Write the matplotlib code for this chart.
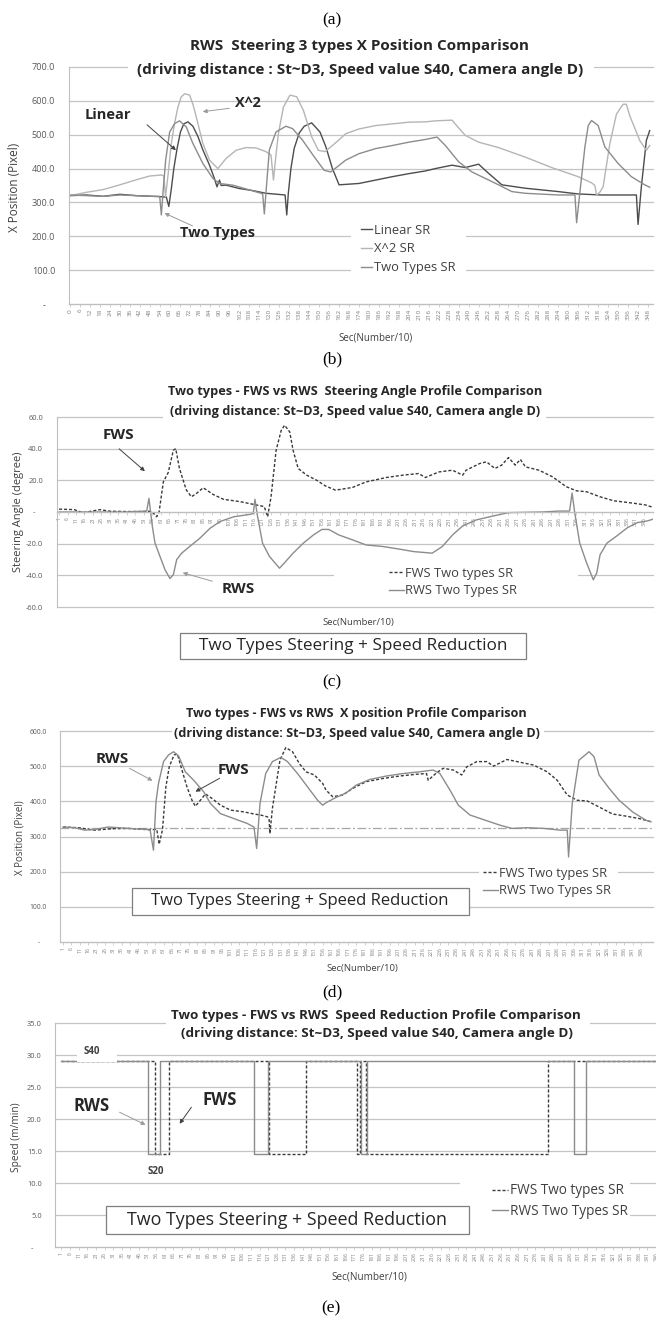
import numpy as np
import matplotlib
matplotlib.use('Agg')
import matplotlib.pyplot as plt
from matplotlib.patches import Rectangle, FancyArrowPatch

plt.rcParams['font.family'] = ['Open Sans', 'DejaVu Sans']

# ---------------- data ----------------
# (a) RWS steering 3 types, X position (pixel) vs sec(number/10)
linear_sr = [(0, 320), (10, 322), (20, 318), (30, 324), (40, 320), (50, 318), (58, 316), (59.5, 288),
             (61, 340), (62.5, 400), (64.5, 460), (66.5, 508), (68.5, 532), (71, 538), (74, 525),
             (77, 495), (80, 455), (84, 410), (87, 370), (88.5, 346), (90, 366), (91, 350), (94, 351),
             (102, 341), (110, 335), (118, 327), (129.5, 322), (130.5, 263), (131.5, 330), (133, 400),
             (135, 460), (138, 505), (141, 525), (145.5, 535), (150.5, 508), (154, 465), (158, 400),
             (162, 352), (174, 356), (184, 366), (194, 376), (204, 385), (214, 393), (220, 400),
             (230, 410), (238, 403), (246, 413), (252, 386), (260, 352), (274, 342), (294, 332),
             (306, 325), (320, 322), (341, 322), (342, 235), (344, 347), (347, 483), (349, 512)]
x2_sr = [(0, 320), (10, 330), (20, 338), (30, 352), (40, 367), (48, 378), (55, 381), (56.5, 378),
         (57.5, 317), (59, 380), (61, 474), (63, 535), (65, 582), (67, 612), (69, 621), (72, 617),
         (74, 590), (76, 553), (80, 474), (84, 425), (89, 400), (94, 430), (100, 454), (106, 462),
         (112, 461), (118, 450), (121, 440), (122.5, 366), (124, 440), (125.5, 504), (128.5, 582),
         (132.5, 617), (136.5, 612), (140.5, 572), (145.5, 494), (149.5, 454), (153.5, 450),
         (157, 464), (162, 485), (166, 503), (174, 517), (184, 527), (194, 532), (204, 537),
         (214, 538), (220, 541), (230, 543), (234, 520), (238, 498), (246, 478), (258, 462),
         (274, 434), (290, 403), (306, 376), (314, 358), (316, 350), (317, 322), (319, 330),
         (321, 347), (325, 473), (329, 561), (333, 590), (335, 590), (337, 556), (340, 520),
         (343, 483), (347, 454), (349, 468)]
two_types_sr = [(0, 322), (10, 320), (20, 318), (30, 322), (40, 320), (50, 318), (54, 318), (55, 263),
                (56, 330), (57.6, 425), (60, 508), (63, 533), (66, 541), (70, 523), (74, 474), (80, 415),
                (86, 371), (90, 356), (98, 351), (108, 337), (115, 327), (116, 325), (117, 266),
                (118, 330), (120, 455), (124, 508), (130, 525), (134, 518), (140, 484), (147, 435),
                (153, 395), (157, 390), (166, 425), (174, 444), (184, 459), (194, 468), (204, 478),
                (214, 486), (221, 493), (226, 468), (234, 420), (242, 390), (250, 371), (258, 352),
                (266, 332), (274, 327), (294, 322), (304, 322), (305, 240), (307, 330), (310, 464),
                (312, 527), (314, 542), (318, 527), (322, 464), (330, 415), (338, 376), (346, 352),
                (349, 345)]

# (b) steering angle (degree)
fws_angle = [(1, 1.8), (10, 1.5), (15, -0.5), (25, 1.5), (31, 0.5), (40, 0.3), (51, 0.3), (55.6, 0.5),
             (58.6, -3), (60, 0), (62.5, 19), (65.4, 25), (68.4, 39), (69.8, 40), (72, 27.5), (76, 14),
             (79, 9.6), (82, 11.7), (86, 15.3), (92, 11), (98, 8), (108, 6.5), (117.5, 4.4), (122, 3.4),
             (124, -3), (126, 9.6), (129, 39), (132, 51.6), (134, 54.8), (137, 50.6), (139, 39),
             (142, 27.5), (147, 23.3), (153, 20), (158, 16.5), (164, 13.8), (174, 15.5), (182, 19),
             (194, 21.8), (204, 23.3), (213, 24.3), (217, 21.8), (225, 25.3), (233, 26.4), (239, 23.3),
             (241, 26.4), (249, 30.6), (253, 31.7), (258, 27.5), (262, 29.6), (266, 34.4), (270, 29.6),
             (273, 33.2), (276, 28.5), (284, 26.4), (292, 22.2), (300, 16), (306, 13.4), (312, 12.8),
             (320, 9.6), (328, 7.1), (340, 5.5), (347, 4.4), (351, 3)]
rws_angle = [(1, 0), (20, 0), (40, 0), (52.7, 0.6), (54, 8.6), (55, 0), (56, -9), (57.6, -19.7),
             (60.5, -28), (63.5, -36.5), (66.4, -42), (68.4, -39.6), (70.4, -30), (73.3, -26),
             (78, -21.8), (84, -16.6), (90, -10.3), (96, -6), (104, -3), (113.6, -1.5), (115.5, -1),
             (116.5, 8), (118, -2.5), (121, -19.7), (125, -28), (131, -35.5), (134, -32), (139, -26),
             (145, -19.7), (151, -14.5), (156, -11), (160, -11), (166, -14.5), (174, -17.6),
             (182, -20.8), (192, -21.8), (202, -23.5), (210, -25), (221, -26), (227, -21.8),
             (233, -14.5), (239, -8.8), (247, -5), (257, -2.5), (266, -0.4), (286, 0), (296, 0.6),
             (302, 0.6), (303.5, 12), (305, 0), (308, -19.7), (312, -32), (316, -42.8), (318, -38.6),
             (320, -27), (324, -19.7), (330, -15), (336, -10), (342, -6.7), (348, -5.6), (351, -4.6)]

# (c) X position (pixel)
fws_xpos = [(1, 327), (10, 325), (20, 318), (30, 322), (40, 323), (50, 320), (57, 320), (58.4, 278),
            (60.4, 320), (62.4, 441), (64.4, 498), (67.3, 532), (69.3, 534), (72, 489), (75, 441),
            (78, 403), (80, 386), (83, 403), (86, 421), (90, 408), (95, 389), (101, 375), (109, 370),
            (115, 364), (119, 361), (123, 356), (124, 350), (124.5, 308), (126, 380), (128, 441),
            (130.5, 517), (134, 553), (138, 541), (142, 508), (146, 484), (151, 475), (156, 451),
            (158, 432), (162, 413), (168, 418), (174, 437), (182, 456), (192, 465), (202, 472),
            (212, 477), (218, 479), (219, 460), (224, 481), (228, 494), (234, 489), (239, 475),
            (242, 498), (248, 513), (254, 513), (258, 500), (266, 519), (272, 513), (282, 503),
            (290, 484), (296, 460), (302, 418), (308, 403), (314, 401), (321, 384), (329, 364),
            (337, 358), (345, 351), (352, 342)]
rws_xpos = [(1, 327), (8, 325), (14, 318), (20, 320), (28, 327), (40, 323), (51, 320), (53, 318),
            (55, 261), (56.5, 399), (58, 451), (61, 513), (64, 532), (67, 541), (70, 529), (74, 484),
            (79, 460), (85, 427), (89, 394), (95, 365), (103, 351), (111, 337), (115, 327),
            (116.6, 266), (118.6, 394), (122, 479), (126, 513), (131, 525), (135, 513), (141, 479),
            (147, 441), (153, 403), (156, 389), (158, 396), (164, 411), (170, 424), (176, 446),
            (184, 462), (194, 472), (204, 479), (214, 484), (222, 489), (226, 479), (232, 432),
            (237, 389), (244, 361), (252, 348), (262, 332), (269, 323), (278, 325), (288, 323),
            (298, 318), (302, 318), (302.8, 242), (305, 394), (309, 517), (315, 541), (318, 527),
            (321, 475), (327, 437), (333, 403), (341, 370), (349, 346), (352, 342)]
ref_xpos = 323

# (d) speed (m/min): change points, value held until the next one
fws_speed = [(1, 29), (55.1, 14.5), (63.5, 29), (121.5, 14.5), (142.9, 29), (172.5, 14.5), (174, 29),
             (177.5, 14.5), (283.1, 29), (352, 29)]
rws_speed = [(1, 29), (51, 14.5), (58.2, 29), (113, 14.5), (120.8, 29), (175, 14.5), (178.5, 29),
             (298.7, 14.5), (305.4, 29), (352, 29)]

# ---------------- figure helpers (pixel layout) ----------------
W, H = 656, 1317
fig = plt.figure(figsize=(W / 100, H / 100), dpi=100)

def fx(x):
    return x / W

def fy(y):
    return 1 - y / H

def add_ax(l, t, r, b):
    return fig.add_axes([fx(l), fy(b), (r - l) / W, (b - t) / H])

def txt(x, y, s, **kw):
    kw.setdefault('zorder', 4)
    fig.text(fx(x), fy(y), s, ha=kw.pop('ha', 'center'), va='center', **kw)

def box(l, t, r, b, edge='none'):
    fig.add_artist(Rectangle((fx(l), fy(b)), (r - l) / W, (b - t) / H, transform=fig.transFigure,
                             facecolor='white', edgecolor=edge, lw=0.9, zorder=3))

def arrow(x0, y0, x1, y1, color):
    fig.add_artist(FancyArrowPatch((fx(x0), fy(y0)), (fx(x1), fy(y1)), transform=fig.transFigure,
                                   arrowstyle='-|>', mutation_scale=6, color=color, lw=0.7, zorder=4))

def style(ax, yticks, ylabels, pad, ysize, xsize):
    ax.set_facecolor('none')
    for s in ['top', 'right']:
        ax.spines[s].set_visible(False)
    for s in ['left', 'bottom']:
        ax.spines[s].set_color('#bfbfbf')
        ax.spines[s].set_linewidth(0.8)
    ax.set_yticks(yticks)
    ax.set_yticklabels(ylabels)
    ax.yaxis.grid(True, color='#c4c4c4', lw=0.9)
    for g in ax.get_ygridlines():
        g.set_clip_on(False)
    ax.set_axisbelow(True)
    ax.tick_params(axis='y', length=0, labelsize=ysize, colors='#595959', pad=pad)
    ax.tick_params(axis='x', length=2, width=0.5, color='#bfbfbf', labelsize=xsize,
                   labelcolor='#7f7f7f', rotation=90, pad=1.5)

def legend(ax, cx, cy, size, spacing):
    fig.legend(*ax.get_legend_handles_labels(), loc='center', bbox_to_anchor=(fx(cx), fy(cy)),
               frameon=False, fontsize=size, handlelength=1.2, handletextpad=0.1,
               labelspacing=spacing, labelcolor='#404040')

def xy(pairs):
    a = np.array(pairs, dtype=float)
    return a[:, 0], a[:, 1]

def fmt(vals):
    return ['-    ' if v == 0 else f'{v:.1f}' for v in vals]

TITLE_C = '#262626'
DARK = '#4d4d4d'
MID = '#8c8c8c'
LIGHT = '#b5b5b5'
dash = (0, (2.2, 1.4))
BOX_TEXT = 'Two Types Steering + Speed Reduction'
SERIF = 'Liberation Serif'

# ---------------- (a) ----------------
txt(332, 20, '(a)', family=SERIF, fontsize=12.5)
ax = add_ax(69, 67, 653, 304)
ax.plot(*xy(linear_sr), color=DARK, lw=1.0, label='Linear SR')
ax.plot(*xy(x2_sr), color=LIGHT, lw=1.0, label='X^2 SR')
ax.plot(*xy(two_types_sr), color=MID, lw=1.0, label='Two Types SR')
ax.set_xlim(-0.6, 351)
ax.set_ylim(0, 700)
yt = np.arange(0, 701, 100)
style(ax, yt, fmt(yt), 10, 6.6, 4.6)
ax.set_xticks(np.arange(0, 349, 6))
ax.set_xticklabels([str(v) for v in range(0, 349, 6)])
txt(360, 46, 'RWS  Steering 3 types X Position Comparison', fontsize=11, fontweight='bold', color=TITLE_C)
box(128, 59, 594, 81)
txt(360, 70, '(driving distance : St~D3, Speed value S40, Camera angle D)', fontsize=11,
    fontweight='bold', color=TITLE_C)
box(351, 214, 466, 284)
fig.legend(*ax.get_legend_handles_labels(), loc='center', bbox_to_anchor=(fx(408), fy(249)),
           frameon=False, fontsize=9.3, handlelength=0.9, handletextpad=0.1, labelspacing=0.45,
           labelcolor='#404040')
txt(108, 115, 'Linear', fontsize=10.5, fontweight='bold', color='#262626')
arrow(145, 123, 178, 152, '#404040')
txt(248, 103, 'X^2', fontsize=10.5, fontweight='bold', color='#262626')
arrow(232, 108, 200, 112, '#9a9a9a')
txt(217, 233, 'Two Types', fontsize=10.5, fontweight='bold', color='#262626')
arrow(195, 227, 162, 212, '#9a9a9a')
txt(15, 187, 'X Position (Pixel)', rotation=90, fontsize=8.5, color='#404040')
txt(376, 338, 'Sec(Number/10)', fontsize=7, color='#404040')

# ---------------- (b) ----------------
txt(332, 359, '(b)', family=SERIF, fontsize=12.5)
ax = add_ax(57, 417, 653, 607)
ax.plot(*xy(fws_angle), color='#3a3a3a', lw=1.0, ls=dash, label='FWS Two types SR')
ax.plot(*xy(rws_angle), color=MID, lw=1.0, label='RWS Two Types SR')
ax.set_xlim(-0.2, 351.2)
ax.set_ylim(-60, 60)
yt = np.arange(-60, 61, 20)
style(ax, yt, fmt(yt), 10, 5.4, 3.8)
ax.spines['bottom'].set_position(('data', 0))
ax.set_xticks(np.arange(1, 347, 5))
ax.set_xticklabels([str(v) for v in range(1, 347, 5)])
txt(355, 391, 'Two types - FWS vs RWS  Steering Angle Profile Comparison', fontsize=9.2,
    fontweight='bold', color=TITLE_C)
box(163, 402, 546, 421)
txt(355, 411, '(driving distance: St~D3, Speed value S40, Camera angle D)', fontsize=9.2,
    fontweight='bold', color=TITLE_C)
box(334, 560, 578, 605)
legend(ax, 453, 582, 9.3, 0.35)
txt(118, 435, 'FWS', fontsize=11, fontweight='bold', color='#262626')
arrow(117, 447, 147, 473, '#404040')
txt(238, 589, 'RWS', fontsize=11, fontweight='bold', color='#262626')
arrow(215, 582, 180, 572, '#9a9a9a')
txt(19, 512, 'Steering Angle (degree)', rotation=90, fontsize=8, color='#404040')
txt(358, 623, 'Sec(Number/10)', fontsize=6.8, color='#404040')
box(180, 633, 526, 659, edge='#7f7f7f')
txt(353, 646, BOX_TEXT, fontsize=12.3, color='#262626')

# ---------------- (c) ----------------
txt(332, 682, '(c)', family=SERIF, fontsize=12.5)
ax = add_ax(60, 731, 653, 942)
ax.axhline(ref_xpos, color='#a6a6a6', lw=0.9, ls=(0, (7, 2, 1.5, 2)))
ax.plot(*xy(fws_xpos), color='#3a3a3a', lw=1.0, ls=dash, label='FWS Two types SR')
ax.plot(*xy(rws_xpos), color=MID, lw=1.0, label='RWS Two Types SR')
ax.set_xlim(-0.8, 353.2)
ax.set_ylim(0, 600)
yt = np.arange(0, 601, 100)
style(ax, yt, fmt(yt), 9.5, 4.9, 3.8)
ax.set_xticks(np.arange(1, 347, 5))
ax.set_xticklabels([str(v) for v in range(1, 347, 5)])
txt(356, 714, 'Two types - FWS vs RWS  X position Profile Comparison', fontsize=9.1,
    fontweight='bold', color=TITLE_C)
box(172, 722, 544, 742)
txt(357, 733, '(driving distance: St~D3, Speed value S40, Camera angle D)', fontsize=9.1,
    fontweight='bold', color=TITLE_C)
box(479, 860, 618, 905)
legend(ax, 547, 882, 9.3, 0.35)
txt(112, 759, 'RWS', fontsize=11, fontweight='bold', color='#262626')
arrow(127, 767, 155, 782, '#9a9a9a')
txt(233, 770, 'FWS', fontsize=11, fontweight='bold', color='#262626')
arrow(222, 777, 193, 793, '#404040')
txt(20, 838, 'X Position (Pixel)', rotation=90, fontsize=7, color='#404040')
txt(362, 968, 'Sec(Number/10)', fontsize=6.8, color='#404040')
box(132, 888, 469, 915, edge='#7f7f7f')
txt(300, 901, BOX_TEXT, fontsize=12, color='#262626')

# ---------------- (d) ----------------
txt(332, 992, '(d)', family=SERIF, fontsize=12.5)
ax = add_ax(55, 1023, 656, 1247)
ax.plot(*xy(fws_speed), color='#3a3a3a', lw=1.0, ls=dash, drawstyle='steps-post',
        label='FWS Two types SR')
ax.plot(*xy(rws_speed), color=MID, lw=1.0, drawstyle='steps-post', label='RWS Two Types SR')
ax.set_xlim(-2.74, 342.7)
ax.set_ylim(0, 35)
yt = np.arange(0, 36, 5)
style(ax, yt, fmt(yt), 9.5, 5.4, 3.8)
ax.set_xticks(np.arange(1, 347, 5))
ax.set_xticklabels([str(v) for v in range(1, 347, 5)])
txt(376, 1015, 'Two types - FWS vs RWS  Speed Reduction Profile Comparison', fontsize=9.7,
    fontweight='bold', color=TITLE_C)
box(166, 1005, 590, 1044)
txt(377, 1034, '(driving distance: St~D3, Speed value S40, Camera angle D)', fontsize=9.7,
    fontweight='bold', color=TITLE_C)
box(460, 1178, 630, 1225)
legend(ax, 560, 1201, 9.8, 0.4)
box(77, 1045, 117, 1062)
txt(92, 1052, 'S40', fontsize=7, fontweight='bold', color='#404040')
txt(156, 1171, 'S20', fontsize=7, fontweight='bold', color='#404040')
txt(92, 1106, 'RWS', fontsize=12, fontweight='bold', color='#262626')
arrow(117, 1111, 148, 1126, '#9a9a9a')
txt(220, 1100, 'FWS', fontsize=12, fontweight='bold', color='#262626')
arrow(193, 1105, 178, 1126, '#404040')
txt(17, 1137, 'Speed (m/min)', rotation=90, fontsize=7.3, color='#404040')
txt(369, 1277, 'Sec(Number/10)', fontsize=7.2, color='#404040')
box(106, 1206, 469, 1234, edge='#7f7f7f')
txt(287, 1220, BOX_TEXT, fontsize=12.9, color='#262626')

txt(331, 1308, '(e)', family=SERIF, fontsize=12.5)

fig.savefig('out.png', dpi=100)
